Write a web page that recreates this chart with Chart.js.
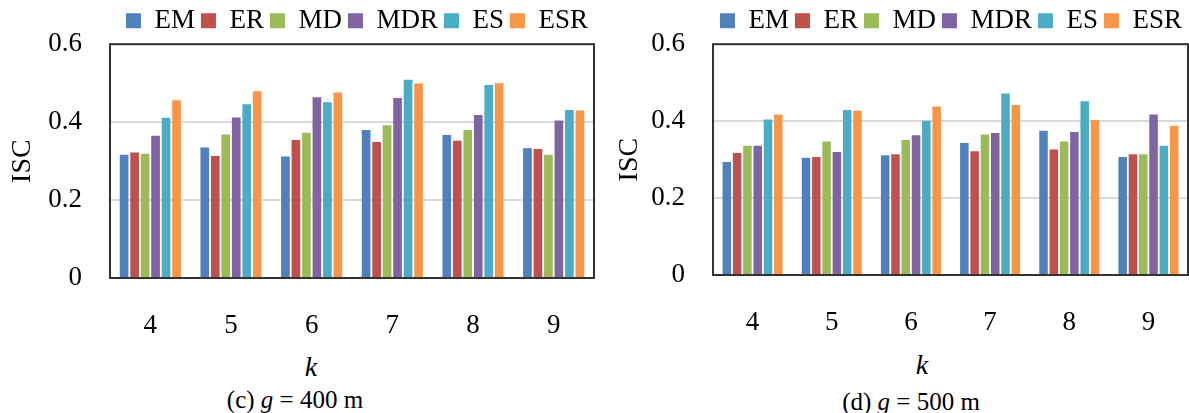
<!DOCTYPE html>
<html>
<head>
<meta charset="utf-8">
<script src="https://cdn.jsdelivr.net/npm/chart.js@4"></script>
<style>
  body { margin: 0; width: 1189px; height: 413px; overflow: hidden; background: #fff; font-family: 'Liberation Serif', serif; }
  .box { position: absolute; top: 0; height: 345px; }
  .txt { position: absolute; width: 240px; text-align: center; color: #000; white-space: nowrap; }
</style>
</head>
<body>
<div class="box" style="left:0; width:595px;"><canvas id="g400"></canvas></div>
<div class="box" style="left:600px; width:589px;"><canvas id="g500"></canvas></div>

<div class="txt" style="left:191px; top:350px; font-size:28px; line-height:34px;"><i>k</i></div>
<div class="txt" style="left:175px; top:387px; font-size:25px; line-height:26px;">(c) <i>g</i> = 400 m</div>
<div class="txt" style="left:802px; top:348px; font-size:28px; line-height:34px;"><i>k</i></div>
<div class="txt" style="left:791px; top:389px; font-size:25px; line-height:26px;">(d) <i>g</i> = 500 m</div>

<script>
// x categories (k)
var kLabels = ['4', '5', '6', '7', '8', '9'];
var methods = ['EM', 'ER', 'MD', 'MDR', 'ES', 'ESR'];
var colors = ['#4F81BD', '#C0504D', '#9BBB59', '#8064A2', '#4BACC6', '#F79646'];
var yTicks = [0, 0.2, 0.4, 0.6];

// (c) g = 400 m
var em400  = [0.316, 0.335, 0.312, 0.380, 0.367, 0.333];
var er400  = [0.322, 0.313, 0.354, 0.349, 0.352, 0.331];
var md400  = [0.319, 0.368, 0.373, 0.392, 0.380, 0.316];
var mdr400 = [0.365, 0.412, 0.464, 0.462, 0.418, 0.404];
var es400  = [0.411, 0.446, 0.451, 0.509, 0.495, 0.431];
var esr400 = [0.456, 0.479, 0.476, 0.499, 0.500, 0.430];

// (d) g = 500 m
var em500  = [0.294, 0.305, 0.311, 0.343, 0.375, 0.307];
var er500  = [0.317, 0.307, 0.314, 0.322, 0.326, 0.314];
var md500  = [0.336, 0.347, 0.351, 0.365, 0.347, 0.314];
var mdr500 = [0.336, 0.320, 0.363, 0.369, 0.372, 0.417];
var es500  = [0.404, 0.429, 0.401, 0.472, 0.452, 0.336];
var esr500 = [0.417, 0.427, 0.438, 0.442, 0.403, 0.388];

var FONT = 'Liberation Serif';

// box around the plot area, drawn over the bars like in the figure
var frame = {
  id: 'frame',
  afterDatasetsDraw: function(chart) {
    var a = chart.chartArea, c = chart.ctx;
    c.save();
    c.strokeStyle = '#333';
    c.lineWidth = 2;
    c.strokeRect(a.left, a.top, a.right - a.left, a.bottom - a.top);
    c.restore();
  }
};

function makeChart(id, series, axisW, xH, titlePad) {
  var sets = series.map(function(vals, i) {
    return {
      label: methods[i],
      data: vals,
      backgroundColor: colors[i],
      borderWidth: 0,
      categoryPercentage: 0.78,
      barPercentage: 0.83
    };
  });
  return new Chart(document.getElementById(id), {
    type: 'bar',
    data: { labels: kLabels, datasets: sets },
    plugins: [frame],
    options: {
      responsive: true,
      maintainAspectRatio: false,
      animation: false,
      layout: { padding: { top: 0, right: 1, left: 0, bottom: 0 } },
      plugins: {
        tooltip: { enabled: false },
        legend: {
          position: 'top',
          align: 'end',
          fullSize: false,
          labels: {
            boxWidth: 15,
            boxHeight: 15,
            padding: 6,
            color: '#000',
            font: { family: FONT, size: 27 }
          }
        }
      },
      scales: {
        x: {
          grid: { display: false },
          border: { display: false },
          ticks: { color: '#000', padding: 24, font: { family: FONT, size: 27 } },
          afterFit: function(s) { s.height = xH; }
        },
        y: {
          min: 0,
          max: 0.6,
          afterBuildTicks: function(s) { s.ticks = yTicks.map(function(v) { return { value: v }; }); },
          grid: { color: '#d9d9d9', lineWidth: 2, drawTicks: false },
          border: { display: false },
          ticks: {
            color: '#000',
            padding: 28,
            font: { family: FONT, size: 27 },
            callback: function(v) { return v === 0 ? '0' : v.toFixed(1); }
          },
          title: {
            display: true,
            text: 'ISC',
            color: '#000',
            font: { family: FONT, size: 28 },
            padding: { top: titlePad, bottom: titlePad }
          },
          afterFit: function(s) { s.width = axisW; }
        }
      }
    }
  });
}

makeChart('g400', [em400, er400, md400, mdr400, es400, esr400], 110, 67, 6);
makeChart('g500', [em500, er500, md500, mdr500, es500, esr500], 113, 70, 13);
</script>
</body>
</html>
